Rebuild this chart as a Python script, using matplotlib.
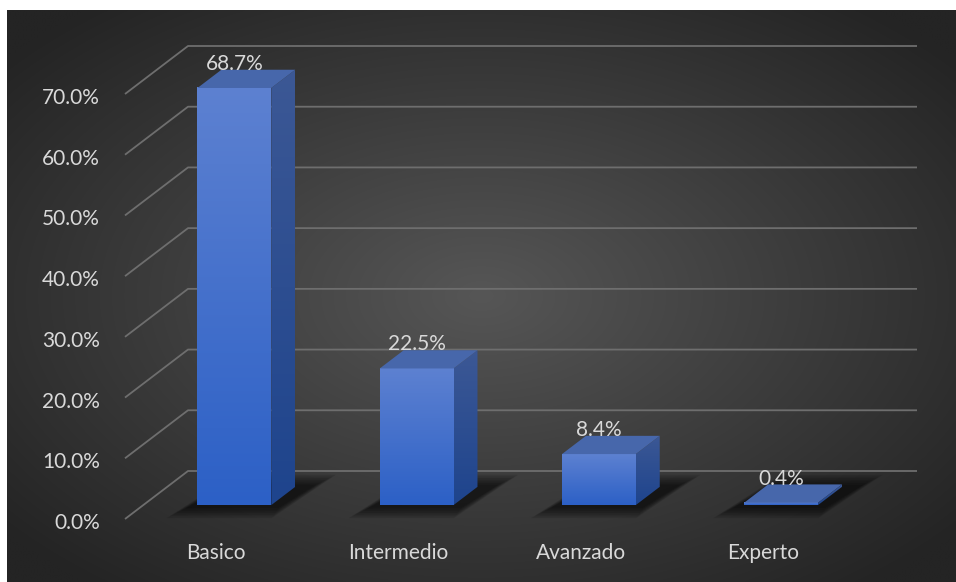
import numpy as np
import matplotlib
matplotlib.use("Agg")
import matplotlib.pyplot as plt
from matplotlib.patches import Polygon
from matplotlib.colors import LinearSegmentedColormap
from matplotlib.transforms import ScaledTranslation

categories = ["Basico", "Intermedio", "Avanzado", "Experto"]
shares = [68.7, 22.5, 8.4, 0.4]
y_ticks = [0, 10, 20, 30, 40, 50, 60, 70]
y_tick_labels = [f"{t:.1f}%" for t in y_ticks]
value_labels = [f"{v:.1f}%" for v in shares]

W, H, DPI = 956, 582, 100
TEXT = "#d9d9d9"
GRID = "#6e6e6e"
FONT = "Lato"
FS = 15

fig = plt.figure(figsize=(W / DPI, H / DPI), dpi=DPI, facecolor="white")

# dark radial background panel
bg_ax = fig.add_axes([7 / W, 0, (W - 7) / W, (H - 10) / H])
bg_ax.set_axis_off()
yy, xx = np.mgrid[-1:1:300j, -1:1:480j]
r = np.hypot(xx, yy)
level = (86 - 50 * np.clip(r / 1.3, 0, 1)) / 255
bg_ax.imshow(np.dstack([level] * 3), extent=(0, 1, 0, 1), aspect="auto",
             interpolation="bilinear")
bg_ax.set_xlim(0, 1)
bg_ax.set_ylim(0, 1)

# main axes covering the figure; bars use an oblique (x, value, depth) projection
ax = fig.add_axes([0, 0, 1, 1], zorder=2)
ax.set_axis_off()
ax.patch.set_alpha(0)
n = len(categories)
left_px, right_px = 125, 854
base_px, top_px = 63, 488
ux = (right_px - left_px) / n
uy = (top_px - base_px) / y_ticks[-1]
x_lo = -0.5 - left_px / ux
y_lo = -base_px / uy
ax.set_xlim(x_lo, x_lo + W / ux)
ax.set_ylim(y_lo, y_lo + H / uy)

DX = 63 / ux   # full floor depth, in category units
DY = 48 / uy   # full floor depth, in value units


def P(x, y, d):
    return (x + d * DX, y + d * DY)


# side wall and back wall gridlines
for t in y_ticks:
    pts = [P(-0.5, t, 0), P(-0.5, t, 1), P(n - 0.5, t, 1)]
    ax.plot([p[0] for p in pts], [p[1] for p in pts], color=GRID, lw=1.3,
            solid_capstyle="butt", zorder=1)

# y tick labels
tick_off = ScaledTranslation(-0.25, -0.10, fig.dpi_scale_trans)
for t, lab in zip(y_ticks, y_tick_labels):
    ax.text(*P(-0.5, t, 0), lab, transform=ax.transData + tick_off,
            ha="right", va="baseline", color=TEXT, fontsize=FS, family=FONT)

front_cmap = LinearSegmentedColormap.from_list("front", ["#2c60c6", "#5d81d1"])
side_cmap = LinearSegmentedColormap.from_list("side", ["#1e448d", "#3c5895"])
TOP = "#4767ab"
grad = np.linspace(0, 1, 256).reshape(-1, 1)

w = 0.405
d0, d1 = 0.29, 0.67

for i, (v, lab) in enumerate(zip(shares, value_labels)):
    x0, x1 = i - w / 2, i + w / 2

    # soft floor shadow around the footprint, reaching further to the right
    for k in range(7):
        e = 0.006 * k
        ed = 0.035 * k
        pts = [P(x0 - 0.04 - e, 0, d0 - 0.06 - ed),
               P(x1 + 0.06 + e, 0, d0 - 0.06 - ed),
               P(x1 + 0.10 + e, 0, d1 + 0.04 + ed),
               P(x0 + 0.02 - e, 0, d1 + 0.04 + ed)]
        ax.add_patch(Polygon(pts, closed=True, facecolor="black", alpha=0.11,
                             edgecolor="none", zorder=2))

    # front face (vertical gradient)
    fx0, fy0 = P(x0, 0, d0)
    fx1, fy1 = P(x1, v, d0)
    ax.imshow(grad, cmap=front_cmap, origin="lower", aspect="auto",
              extent=(fx0, fx1, fy0, fy1), interpolation="bilinear", zorder=4)

    # side face
    side = Polygon([P(x1, 0, d0), P(x1, 0, d1), P(x1, v, d1), P(x1, v, d0)],
                   closed=True, facecolor="none", edgecolor="none", zorder=4)
    ax.add_patch(side)
    sxa, sya = P(x1, 0, d0)
    sxb, syb = P(x1, v, d1)
    im = ax.imshow(grad, cmap=side_cmap, origin="lower", aspect="auto",
                   extent=(sxa, sxb, sya, syb), interpolation="bilinear",
                   zorder=4)
    im.set_clip_path(side)

    # top face
    ax.add_patch(Polygon([P(x0, v, d0), P(x1, v, d0), P(x1, v, d1), P(x0, v, d1)],
                         closed=True, facecolor=TOP, edgecolor="none", zorder=5))

    # value label above the bar
    lab_off = ScaledTranslation(0, 0.18, fig.dpi_scale_trans)
    ax.text(*P(i, v, d0), lab, transform=ax.transData + lab_off, ha="center",
            va="baseline", color=TEXT, fontsize=FS, family=FONT, zorder=6)

    # category label
    cat_off = ScaledTranslation(0, -0.40, fig.dpi_scale_trans)
    ax.text(*P(i, 0, 0), categories[i], transform=ax.transData + cat_off,
            ha="center", va="baseline", color=TEXT, fontsize=FS, family=FONT)

fig.savefig("out.png", dpi=DPI, facecolor="white")
